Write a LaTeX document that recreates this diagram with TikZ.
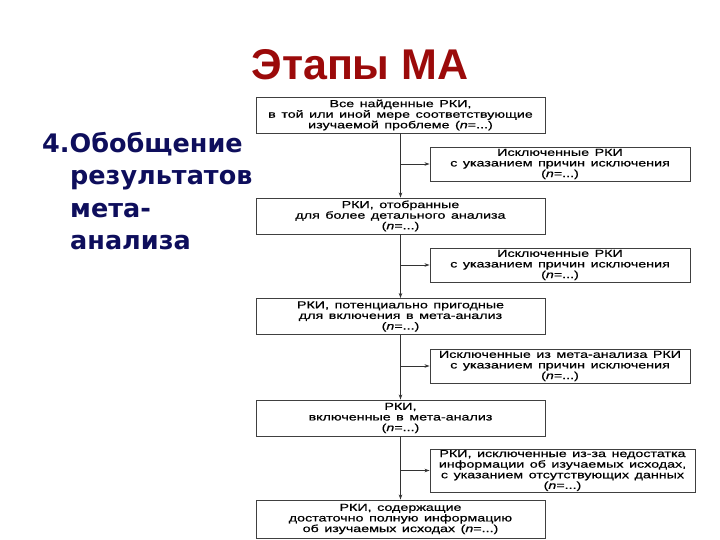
\documentclass[tikz,border=0pt]{standalone}
\usepackage{fontspec}
\setmainfont{Liberation Sans}
\newfontfamily\boxfont[FakeStretch=1.4, WordSpace=1.4, FakeBold=0.6]{Liberation Sans}
\newfontfamily\stepfont{DejaVu Sans}
\usetikzlibrary{arrows.meta}

\definecolor{titlered}{RGB}{155,10,10}
\definecolor{stepblue}{RGB}{14,14,92}

\tikzset{
  mainbox/.style={draw=black!75, line width=0.9pt, minimum width=289pt, minimum height=36pt,
    inner sep=1pt, align=center, font=\boxfont\fontsize{10.2}{10.6}\selectfont},
  sidebox/.style={mainbox, minimum width=260pt, minimum height=34pt},
  flow/.style={draw=black!80, line width=0.8pt, -{Stealth[length=5pt,width=3.5pt]}}
}

\begin{document}
\begin{tikzpicture}[x=1pt, y=-1pt]
  \useasboundingbox (0,0) rectangle (720,540);
  \node[font=\bfseries\fontsize{43}{46}\selectfont, text=titlered] (title) at (360,65) {Этапы МА};
  \node[anchor=north west, align=left, inner sep=0pt, text=stepblue,
    font=\stepfont\bfseries\fontsize{25.5}{32.5}\selectfont] (step4) at (42,132)
    {4.Обобщение\\\hspace*{28pt}результатов\\\hspace*{28pt}мета-\\\hspace*{28pt}анализа};

  % main column
  \node[mainbox] (rct1) at (400.5,115) {Все найденные РКИ,\\в той или~иной мере соответствующие\\изучаемой проблеме (\textit{n}=...)};
  \node[mainbox] (rct2) at (400.5,216) {РКИ, отобранные\\для более детального анализа\\(\textit{n}=...)};
  \node[mainbox] (rct3) at (400.5,316.5) {РКИ, потенциально пригодные\\для включения в мета-анализ\\(\textit{n}=...)};
  \node[mainbox] (rct4) at (400.5,418) {РКИ,\\включенные в мета-анализ\\(\textit{n}=...)};
  \node[mainbox, minimum height=38pt] (rct5) at (400.5,519) {РКИ, содержащие\\достаточно полную информацию\\об изучаемых исходах (\textit{n}=...)};

  % excluded
  \node[sidebox] (excl1) at (560,164) {Исключенные РКИ\\с указанием причин исключения\\(\textit{n}=...)};
  \node[sidebox] (excl2) at (560,265) {Исключенные РКИ\\с указанием причин исключения\\(\textit{n}=...)};
  \node[sidebox] (excl3) at (560,366) {Исключенные из мета-анализа РКИ\\с указанием причин исключения\\(\textit{n}=...)};
  \node[sidebox, minimum width=265pt, minimum height=43pt] (excl4) at (562.5,470.5) {РКИ, исключенные из-за недостатка\\информации об изучаемых исходах,\\с указанием отсутствующих данных\\(\textit{n}=...)};

  \foreach \a/\b in {rct1/rct2, rct2/rct3, rct3/rct4, rct4/rct5}
    \draw[flow] (\a) -- (\b);
  \foreach \a/\e in {rct1/excl1, rct2/excl2, rct3/excl3, rct4/excl4}
    \draw[flow] (\a.south |- \e.west) -- (\e.west);
\end{tikzpicture}
\end{document}
